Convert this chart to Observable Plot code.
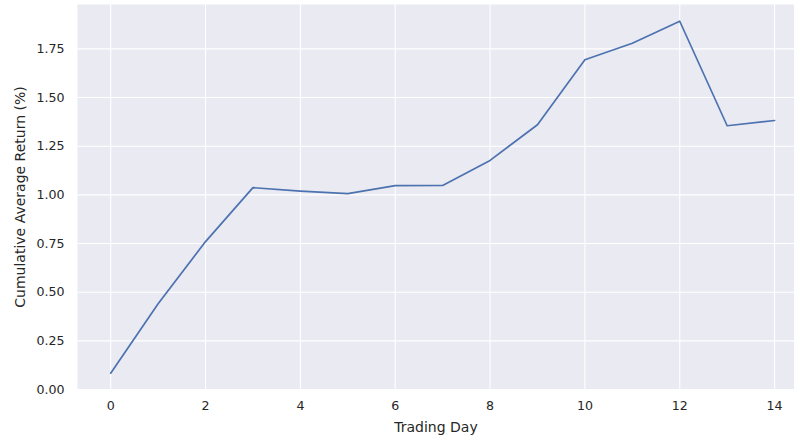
<!DOCTYPE html>
<html>
<head>
<meta charset="utf-8">
<script src="https://cdn.jsdelivr.net/npm/d3@7"></script>
<script src="https://cdn.jsdelivr.net/npm/@observablehq/plot@0.6"></script>
<style>
  html, body { margin: 0; padding: 0; background: #fff; }
  #chart svg { display: block; }
</style>
</head>
<body>
<div id="chart"></div>
<script>
const days = [0, 1, 2, 3, 4, 5, 6, 7, 8, 9, 10, 11, 12, 13, 14];
const cumReturn = [0.084, 0.441, 0.76, 1.037, 1.019, 1.006, 1.047, 1.048, 1.177, 1.36, 1.694, 1.779, 1.892, 1.355, 1.382];
const xTicks = [0, 2, 4, 6, 8, 10, 12, 14];
const yTicks = [0, 0.25, 0.5, 0.75, 1.0, 1.25, 1.5, 1.75];

const data = days.map((d, i) => ({day: d, ret: cumReturn[i]}));

const chart = Plot.plot({
  width: 794,
  height: 436,
  marginLeft: 77,
  marginRight: 0,
  marginTop: 4,
  marginBottom: 47,
  style: {fontFamily: "DejaVu Sans", fontSize: "12.6px", color: "#262626", background: "#fff"},
  x: {domain: [-0.7, 14.42]},
  y: {domain: [0, 1.978]},
  marks: [
    Plot.frame({fill: "#EAEAF2", stroke: null}),
    Plot.gridX(xTicks, {stroke: "#fff", strokeOpacity: 1, strokeWidth: 1.1}),
    Plot.gridY(yTicks, {stroke: "#fff", strokeOpacity: 1, strokeWidth: 1.1}),
    Plot.axisX(xTicks, {tickSize: 0, tickPadding: 12, fontSize: 12.6, fill: "#262626", label: null}),
    Plot.axisX({ticks: [], tickSize: 0, fontSize: 14, fill: "#262626", label: "Trading Day", labelAnchor: "center", labelArrow: "none", labelOffset: 42}),
    Plot.axisY(yTicks, {tickSize: 0, tickPadding: 13, fontSize: 12.6, fill: "#262626", tickFormat: d3.format(".2f"), label: null}),
    Plot.axisY({ticks: [], tickSize: 0, fontSize: 14, fill: "#262626", label: "Cumulative Average Return (%)", labelAnchor: "center", labelArrow: "none", labelOffset: 62}),
    Plot.line(data, {x: "day", y: "ret", stroke: "#4C72B0", strokeWidth: 1.7})
  ]
});
document.getElementById("chart").appendChild(chart);
</script>
</body>
</html>
